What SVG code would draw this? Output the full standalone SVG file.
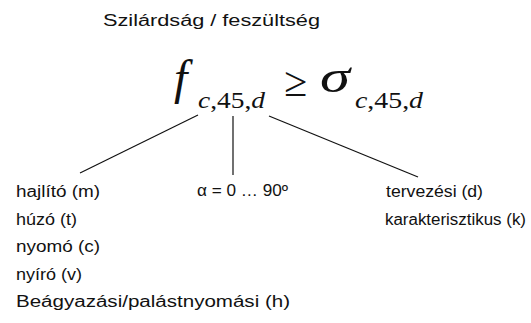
<svg xmlns="http://www.w3.org/2000/svg" width="531" height="323" viewBox="0 0 531 323">
<style>
.t{font-family:"Liberation Sans",Arial,sans-serif;font-size:16px;fill:#111}
.m{font-family:"Liberation Serif","Times New Roman",serif;fill:#111}
.i{font-style:italic}
.ln{stroke:#111;stroke-width:1.2;fill:none}
</style>
<rect width="531" height="323" fill="#fff"/>
<g id="title"><text class="t" x="103" y="26" font-size="21" textLength="217" lengthAdjust="spacingAndGlyphs">Szilárdság / feszültség</text></g>
<g id="formula">
<text class="m i" x="174" y="94" font-size="48">f</text>
<text class="m" x="198" y="108" font-size="23" textLength="67" lengthAdjust="spacingAndGlyphs"><tspan class="i">c</tspan>,45,<tspan class="i">d</tspan></text>
<text class="m" x="284" y="96" font-size="42">≥</text>
<text class="m i" x="320" y="92" font-size="46" textLength="30" lengthAdjust="spacingAndGlyphs">σ</text>
<text class="m" x="355" y="108" font-size="23" textLength="68" lengthAdjust="spacingAndGlyphs"><tspan class="i">c</tspan>,45,<tspan class="i">d</tspan></text>
</g>
<g id="connectors">
<line class="ln" x1="198" y1="115" x2="80" y2="173"/>
<line class="ln" x1="233" y1="116" x2="233" y2="175"/>
<line class="ln" x1="269" y1="116" x2="418" y2="177"/>
</g>
<g id="load-types">
<text class="t" x="16" y="197" textLength="84" lengthAdjust="spacingAndGlyphs">hajlító (m)</text>
<text class="t" x="16" y="225" textLength="61" lengthAdjust="spacingAndGlyphs">húzó (t)</text>
<text class="t" x="16" y="252" textLength="84" lengthAdjust="spacingAndGlyphs">nyomó (c)</text>
<text class="t" x="16" y="280" textLength="66" lengthAdjust="spacingAndGlyphs">nyíró (v)</text>
<text class="t" x="16" y="307" textLength="274" lengthAdjust="spacingAndGlyphs">Beágyazási/palástnyomási (h)</text>
</g>
<g id="angle"><text class="t" x="197" y="196" textLength="91" lengthAdjust="spacingAndGlyphs">α = 0 … 90º</text></g>
<g id="value-types">
<text class="t" x="386" y="197" textLength="97" lengthAdjust="spacingAndGlyphs">tervezési (d)</text>
<text class="t" x="385" y="225" textLength="141" lengthAdjust="spacingAndGlyphs">karakterisztikus (k)</text>
</g>
</svg>
